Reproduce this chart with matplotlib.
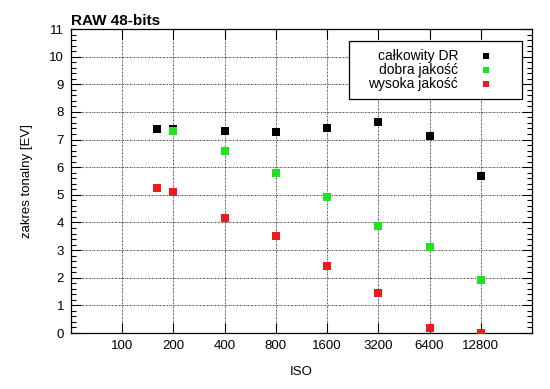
import matplotlib
matplotlib.use("Agg")
import matplotlib.pyplot as plt
from matplotlib.ticker import FixedLocator, FixedFormatter, MultipleLocator, NullLocator
from matplotlib.patches import Rectangle

plt.rcParams['font.family'] = ['Liberation Sans', 'DejaVu Sans']

iso = [160, 200, 400, 800, 1600, 3200, 6400, 12800]
calkowity = [7.39, 7.38, 7.31, 7.27, 7.41, 7.65, 7.14, 5.68]
dobra = [None, 7.31, 6.60, 5.78, 4.91, 3.88, 3.12, 1.92]
wysoka = [5.25, 5.09, 4.16, 3.50, 2.42, 1.43, 0.19, 0.0]
xticks = [100, 200, 400, 800, 1600, 3200, 6400, 12800]
series_names = ["całkowity DR", "dobra jakość", "wysoka jakość"]
colors = ["#000000", "#22e022", "#e81c1c"]

fig = plt.figure(figsize=(5.5, 3.89), dpi=100)
ax = fig.add_axes([71/550, 1-333/389, (532-71)/550, (333-29)/389])

ax.set_xscale('log')
ax.set_xlim(50, 25600)
ax.set_ylim(0, 11)

# data
data = [calkowity, dobra, wysoka]
for vals, c in zip(data, colors):
    xs = [x for x, v in zip(iso, vals) if v is not None]
    ys = [v for v in vals if v is not None]
    ax.plot(xs, ys, linestyle='none', marker='s', markersize=5.2, color=c,
            markeredgewidth=0, zorder=3)

ax.xaxis.set_major_locator(FixedLocator(xticks))
ax.xaxis.set_major_formatter(FixedFormatter([str(t) for t in xticks]))
ax.xaxis.set_minor_locator(NullLocator())
ax.yaxis.set_major_locator(MultipleLocator(1))
ax.yaxis.set_minor_locator(MultipleLocator(0.2))

ax.tick_params(axis='both', which='major', direction='in', length=7, width=0.8,
               top=True, right=True, labelsize=9.5, pad=5)
ax.tick_params(axis='y', which='minor', direction='in', length=3.5, width=0.8,
               left=True, right=True)
ax.grid(True, which='major', color='#222222', linestyle=(0, (1.6, 1.1, 0.6, 1.1)),
        linewidth=0.6)
for s in ax.spines.values():
    s.set_linewidth(0.9)

ax.set_xlabel("ISO", fontsize=9.5, labelpad=10)
ax.set_ylabel("zakres tonalny [EV]", fontsize=9.5, labelpad=12)
ax.set_title("RAW 48-bits", fontsize=11, fontweight='bold', loc='left', pad=3)

# legend (gnuplot style: right-aligned text, marker to the right)
bx0, bx1 = (349-71)/461, (522-71)/461
by1, by0 = (333-41)/304, (333-99)/304
ax.add_patch(Rectangle((bx0, by0), bx1-bx0, by1-by0, transform=ax.transAxes,
                       facecolor='white', edgecolor='black', linewidth=0.9, zorder=4))
row_y = [56, 70, 84]
for name, c, ry in zip(series_names, colors, row_y):
    yy = (333-ry)/304
    ax.text((458-71)/461, yy, name, transform=ax.transAxes, ha='right', va='center',
            fontsize=10, zorder=5)
    ax.plot([(486-71)/461], [yy], transform=ax.transAxes, marker='s', markersize=5,
            color=c, markeredgewidth=0, linestyle='none', zorder=5, clip_on=False)

fig.savefig("out.png", dpi=100)
